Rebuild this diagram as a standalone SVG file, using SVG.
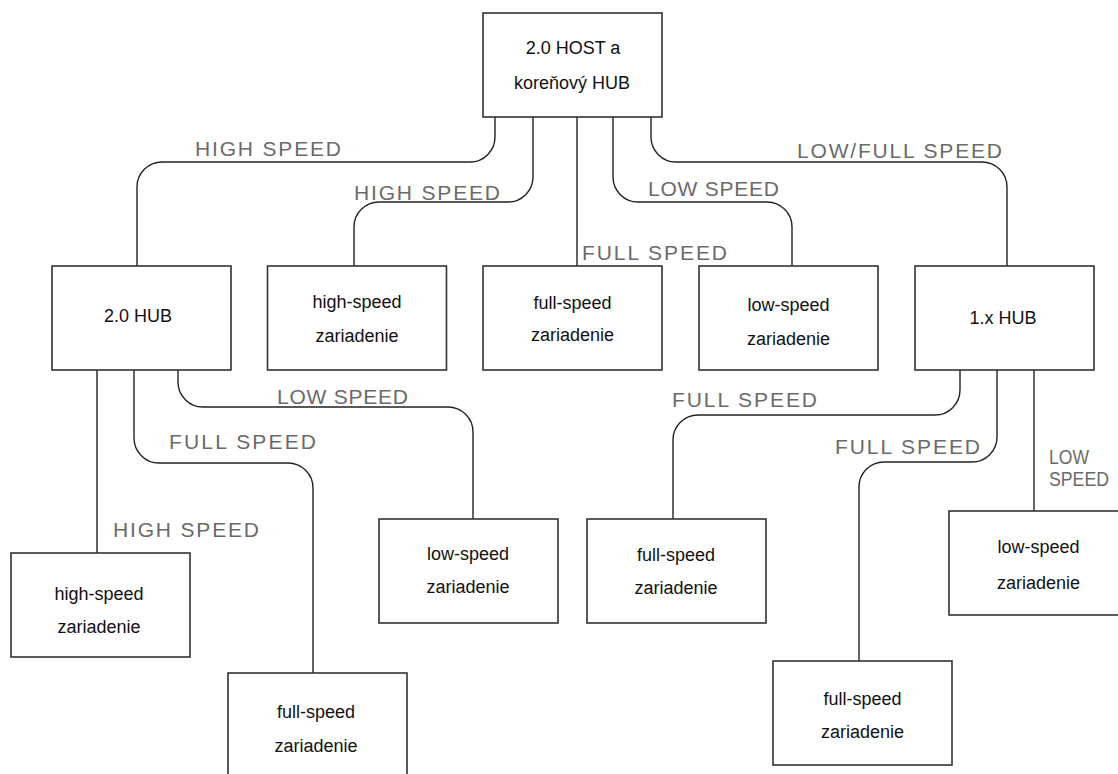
<svg xmlns="http://www.w3.org/2000/svg" width="1118" height="774" viewBox="0 0 1118 774">
<style>
.box rect{fill:#fff;stroke:#333;stroke-width:1.6}
.box text{font-family:"Liberation Sans",Arial,sans-serif;font-size:18px;fill:#111;text-anchor:middle}
.conn path{fill:none;stroke:#222;stroke-width:1.4}
.lbl{font-family:"Liberation Sans",Arial,sans-serif;font-size:21px;fill:#6a6a6a}
</style>
<rect width="1118" height="774" fill="#fff"/>
<g id="connectors" class="conn">
<path d="M495,117 V137 A25,25 0 0 1 470,162 H162 A25,25 0 0 0 137,187 V266"/>
<path d="M533,117 V177 A25,25 0 0 1 508,202 H379 A25,25 0 0 0 354,227 V266"/>
<path d="M577,117 V266"/>
<path d="M613,117 V177 A25,25 0 0 0 638,202 H767 A25,25 0 0 1 792,227 V266"/>
<path d="M651,117 V137 A25,25 0 0 0 676,162 H982 A25,25 0 0 1 1007,187 V266"/>
<path d="M97,370 V553"/>
<path d="M134,370 V438 A25,25 0 0 0 159,463 H288 A25,25 0 0 1 313,488 V673"/>
<path d="M178,370 V382 A25,25 0 0 0 203,407 H448 A25,25 0 0 1 473,432 V519"/>
<path d="M960,370 V390 A25,25 0 0 1 935,415 H698 A25,25 0 0 0 673,440 V519"/>
<path d="M997,370 V437 A25,25 0 0 1 972,462 H884 A25,25 0 0 0 859,487 V661"/>
<path d="M1034,370 V511"/>
</g>
<g id="labels">
<text class="lbl" x="195" y="156" textLength="146" lengthAdjust="spacing">HIGH SPEED</text>
<text class="lbl" x="354" y="200" textLength="146" lengthAdjust="spacing">HIGH SPEED</text>
<text class="lbl" x="582" y="260" textLength="145" lengthAdjust="spacing">FULL SPEED</text>
<text class="lbl" x="648" y="196" textLength="131" lengthAdjust="spacing">LOW SPEED</text>
<text class="lbl" x="797" y="158" textLength="205" lengthAdjust="spacing">LOW/FULL SPEED</text>
<text class="lbl" x="113" y="537" textLength="146" lengthAdjust="spacing">HIGH SPEED</text>
<text class="lbl" x="169" y="449" textLength="147" lengthAdjust="spacing">FULL SPEED</text>
<text class="lbl" x="277" y="404" textLength="131" lengthAdjust="spacing">LOW SPEED</text>
<text class="lbl" x="672" y="407" textLength="145" lengthAdjust="spacing">FULL SPEED</text>
<text class="lbl" x="835" y="454" textLength="145" lengthAdjust="spacing">FULL SPEED</text>
<text class="lbl" x="1049" y="464" textLength="40" lengthAdjust="spacingAndGlyphs">LOW</text>
<text class="lbl" x="1049" y="486" textLength="60" lengthAdjust="spacingAndGlyphs">SPEED</text>
</g>
<g id="root" class="box"><rect x="483" y="13" width="179" height="104"/><text x="573" y="54">2.0 HOST a</text><text x="572" y="89">koreňový HUB</text></g>
<g id="hub20" class="box"><rect x="52" y="266" width="179" height="104"/><text x="138" y="322">2.0 HUB</text></g>
<g id="hs1" class="box"><rect x="267.5" y="266" width="179" height="104"/><text x="357" y="308">high-speed</text><text x="357" y="342">zariadenie</text></g>
<g id="fs1" class="box"><rect x="483" y="266" width="179" height="104"/><text x="572.5" y="309">full-speed</text><text x="572.5" y="341">zariadenie</text></g>
<g id="ls1" class="box"><rect x="699" y="266" width="179" height="104"/><text x="788.5" y="311">low-speed</text><text x="788.5" y="345">zariadenie</text></g>
<g id="hub1x" class="box"><rect x="915" y="266" width="179" height="104"/><text x="1003" y="324">1.x HUB</text></g>
<g id="hs2" class="box"><rect x="11" y="553" width="179" height="104"/><text x="99" y="600">high-speed</text><text x="99" y="633">zariadenie</text></g>
<g id="ls2" class="box"><rect x="379" y="519" width="179" height="104"/><text x="468" y="560">low-speed</text><text x="468" y="593">zariadenie</text></g>
<g id="fs2" class="box"><rect x="228" y="673" width="179" height="104"/><text x="316" y="718">full-speed</text><text x="316" y="752">zariadenie</text></g>
<g id="fs3" class="box"><rect x="587" y="519" width="179" height="104"/><text x="676" y="561">full-speed</text><text x="676" y="594">zariadenie</text></g>
<g id="fs4" class="box"><rect x="773" y="661" width="179" height="104"/><text x="862.5" y="705">full-speed</text><text x="862.5" y="738">zariadenie</text></g>
<g id="ls3" class="box"><rect x="949" y="511" width="179" height="104"/><text x="1038.5" y="553">low-speed</text><text x="1038.5" y="589">zariadenie</text></g>
</svg>
